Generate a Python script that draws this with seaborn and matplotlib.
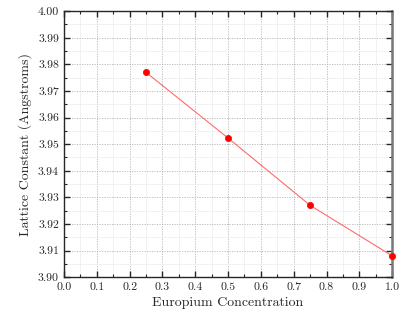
import matplotlib
matplotlib.use('Agg')
import matplotlib.pyplot as plt
import seaborn as sns
import pandas as pd
from matplotlib.ticker import MultipleLocator

# Данные
concentration = [0.25, 0.5, 0.75, 1.0]
lattice_constant = [3.977, 3.9523, 3.927, 3.908]

sns.set_style('ticks')
plt.rcParams['font.family'] = 'serif'
plt.rcParams['font.serif'] = ['cmr10', 'DejaVu Serif']
plt.rcParams['mathtext.fontset'] = 'cm'
plt.rcParams['axes.formatter.use_mathtext'] = True

df = pd.DataFrame({'x': concentration, 'y': lattice_constant})

fig = plt.figure(figsize=(4.15, 3.28), dpi=100)
ax = fig.add_axes([0.154, 0.155, 0.791, 0.811])

sns.lineplot(data=df, x='x', y='y', ax=ax, color='#ff6b6b', linewidth=0.8,
             marker='o', markersize=4.5, markerfacecolor='red', markeredgecolor='red',
             markeredgewidth=0.5, clip_on=False, zorder=3)

ax.set_xlim(0, 1.0)
ax.set_ylim(3.90, 4.00)
ax.xaxis.set_major_locator(MultipleLocator(0.1))
ax.xaxis.set_minor_locator(MultipleLocator(0.05))
ax.yaxis.set_major_locator(MultipleLocator(0.01))
ax.yaxis.set_minor_locator(MultipleLocator(0.005))
ax.xaxis.set_major_formatter(plt.FuncFormatter(lambda v, p: f'{v:.1f}'))
ax.yaxis.set_major_formatter(plt.FuncFormatter(lambda v, p: f'{v:.2f}'))

# сетка: основная пунктир, вспомогательная светлая
ax.grid(True, which='major', linestyle=(0, (1.5, 1.5)), color='#b5b5b5', linewidth=0.6)
ax.grid(True, which='minor', linestyle='-', color='#efefef', linewidth=0.6)
ax.set_axisbelow(True)

ax.tick_params(which='both', direction='in', top=True, right=True, labelsize=8.5)
ax.tick_params(which='major', length=4, width=1)
ax.tick_params(which='minor', length=2.5, width=0.8)
for s in ['left', 'bottom', 'top']:
    ax.spines[s].set_linewidth(1.0)
ax.spines['right'].set_linewidth(1.8)
ax.spines['right'].set_color('#777777')

ax.set_xlabel('Europium Concentration', fontsize=10)
ax.set_ylabel('Lattice Constant (Angstroms)', fontsize=10)

plt.savefig('out.png', dpi=100)
plt.close()
